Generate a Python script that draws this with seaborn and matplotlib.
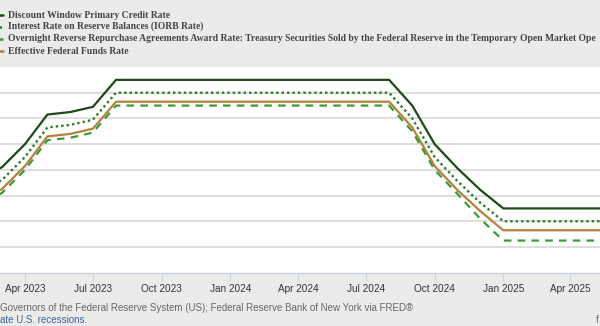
import numpy as np
import pandas as pd
import matplotlib
matplotlib.use("Agg")
import matplotlib.pyplot as plt
import matplotlib.dates as mdates
from matplotlib.lines import Line2D
import seaborn as sns

# ---- data (monthly averages, %) ----
months = pd.date_range("2023-02-01", "2025-06-01", freq="MS")
primary_credit = [4.74, 4.82, 5.00, 5.23, 5.25, 5.29,
                  5.50, 5.50, 5.50, 5.50, 5.50, 5.50, 5.50, 5.50, 5.50, 5.50, 5.50, 5.50, 5.50,
                  5.30, 5.00, 4.81, 4.645,
                  4.50, 4.50, 4.50, 4.50, 4.50, 4.50]
iorb = [4.64, 4.72, 4.90, 5.13, 5.15, 5.19,
        5.40, 5.40, 5.40, 5.40, 5.40, 5.40, 5.40, 5.40, 5.40, 5.40, 5.40, 5.40, 5.40,
        5.20, 4.90, 4.71, 4.545,
        4.40, 4.40, 4.40, 4.40, 4.40, 4.40]
onrrp = [4.54, 4.62, 4.80, 5.03, 5.05, 5.09,
         5.30, 5.30, 5.30, 5.30, 5.30, 5.30, 5.30, 5.30, 5.30, 5.30, 5.30, 5.30, 5.30,
         5.10, 4.80, 4.61, 4.42,
         4.25, 4.25, 4.25, 4.25, 4.25, 4.25]
effr = [4.57, 4.65, 4.83, 5.06, 5.08, 5.12,
        5.33, 5.33, 5.33, 5.33, 5.33, 5.33, 5.33, 5.33, 5.33, 5.33, 5.33, 5.33, 5.33,
        5.13, 4.83, 4.64, 4.48,
        4.33, 4.33, 4.33, 4.33, 4.33, 4.33]

# legend labels as visible in the (cropped) reference
series_names = [
    "Discount Window Primary Credit Rate",
    "Interest Rate on Reserve Balances (IORB Rate)",
    "Overnight Reverse Repurchase Agreements Award Rate: Treasury Securities Sold by the Federal Reserve in the Temporary Open Market Ope",
    "Effective Federal Funds Rate",
]
source_text = "Governors of the Federal Reserve System (US); Federal Reserve Bank of New York via FRED\u00ae"
recession_text = "ate U.S. recessions."

colors = ["#1d4a16", "#2f7a2a", "#3a9a36", "#b7803e"]

# ---- figure ----
sns.set_theme(style="white")
plt.rcParams["font.family"] = ["Liberation Sans", "DejaVu Sans"]

W, H = 600, 326
fig = plt.figure(figsize=(6.0, 3.26), dpi=100)
bg = "#ebecea"
fig.patch.set_facecolor(bg)

top_px, bot_px = 67, 272.7
ax = fig.add_axes([0.0, 1 - bot_px / H, 1.0, (bot_px - top_px) / H])
ax.set_facecolor("white")

df = pd.DataFrame({"date": months, "primary": primary_credit, "iorb": iorb,
                   "onrrp": onrrp, "effr": effr})

sns.lineplot(data=df, x="date", y="primary", ax=ax, color=colors[0], lw=1.6)
sns.lineplot(data=df, x="date", y="iorb", ax=ax, color=colors[1], lw=1.7,
             linestyle=(0, (1.0, 1.3)))
sns.lineplot(data=df, x="date", y="effr", ax=ax, color=colors[3], lw=1.6)
sns.lineplot(data=df, x="date", y="onrrp", ax=ax, color=colors[2], lw=1.6,
             linestyle=(0, (3.4, 2.8)))

# axes ranges
ref = pd.Timestamp("2023-04-01")
ax.set_xlim(ref - pd.Timedelta(days=33.5), ref + pd.Timedelta(days=770.6))
ax.set_ylim(4.0, 5.6)

ax.set_yticks(np.arange(4.2, 5.5, 0.2))
ax.yaxis.grid(True, color="#d8d8d8", lw=1.2)
ax.xaxis.grid(False)
ax.tick_params(axis="y", left=False, labelleft=False)
ax.set_xlabel("")
ax.set_ylabel("")

ax.xaxis.set_major_locator(mdates.MonthLocator(bymonth=[1, 4, 7, 10]))
ax.xaxis.set_major_formatter(mdates.DateFormatter("%b %Y"))
ax.tick_params(axis="x", bottom=True, length=6, width=0.8, color="#c9d2de",
               labelsize=7.2, labelcolor="#333333", pad=2)
for s in ["top", "left", "right"]:
    ax.spines[s].set_visible(False)
ax.spines["bottom"].set_color("#c9d2de")
ax.spines["bottom"].set_linewidth(1.0)

# ---- legend (manual, FRED style) ----
leg_y = [15, 26.5, 38.5, 51]
styles = ["-", (0, (1.0, 1.3)), (0, (3.4, 2.8)), "-"]
for name, yy, c, ls in zip(series_names, leg_y, colors, styles):
    fy = 1 - yy / H
    fig.add_artist(Line2D([-6 / W, 3 / W], [fy, fy], color=c, lw=1.8, ls=ls,
                          transform=fig.transFigure))
    fig.text(8 / W, fy, name, ha="left", va="center", fontsize=6.95,
             fontweight="bold", color="#444444",
             family=["Liberation Serif", "DejaVu Serif"])

# ---- source notes ----
fig.text(0 / W, 1 - 308 / H, source_text, ha="left", va="center",
         fontsize=7.0, color="#666666")
fig.text(0 / W, 1 - 320 / H, recession_text, ha="left", va="center",
         fontsize=7.0, color="#3e64a0")
fig.text(596 / W, 1 - 320 / H, "f", ha="left", va="center",
         fontsize=7.0, color="#666666")

fig.savefig("out.png", dpi=100, facecolor=bg)
